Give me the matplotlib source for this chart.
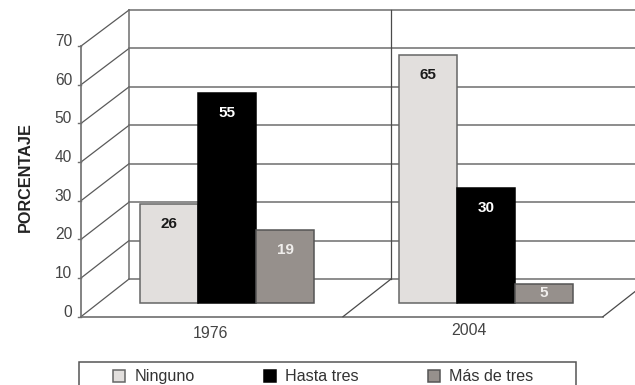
import matplotlib
matplotlib.use('Agg')
import matplotlib.pyplot as plt
from matplotlib.patches import Patch, Rectangle

plt.rcParams['font.family'] = ['Liberation Sans', 'DejaVu Sans']

years = ['1976', '2004']
categories = ['Ninguno', 'Hasta tres', 'Más de tres']
ninguno = [26, 65]
hasta_tres = [55, 30]
mas_de_tres = [19, 5]
yticks = [0, 10, 20, 30, 40, 50, 60, 70]

series = [ninguno, hasta_tres, mas_de_tres]
fills = ['#e2dfdd', '#000000', '#96908c']
edges = ['#666666', '#000000', '#555555']
label_colors = ['#1a1a1a', '#ffffff', '#f0eeec']

W, H = 635, 385
PX_PER_UNIT = 3.82
GROUP_STEP = 259.0
BASE_Y = 303.0
LINE = '#6e6e6e'
TEXT = '#444444'

fig = plt.figure(figsize=(W / 100, H / 100), dpi=100)
ax = fig.add_axes([0, 0, 1, 1])
ax.set_xlim(-227 / GROUP_STEP, (W - 227) / GROUP_STEP)
ax.set_ylim(-(H - BASE_Y) / PX_PER_UNIT, BASE_Y / PX_PER_UNIT)
ax.axis('off')


def front(v):
    # value on the near edge of the pseudo-3D box
    return v * 1.012 - 3.58


def back(v):
    # value on the rear wall of the box
    return v * 1.006 + 6.27


# x positions of the box corners, in group units
x_front = (81 - 227) / GROUP_STEP
x_back = (129 - 227) / GROUP_STEP
x_front_end = (603 - 227) / GROUP_STEP
x_back_end = (651 - 227) / GROUP_STEP
x_mid_front = (343 - 227) / GROUP_STEP
x_mid_back = (391 - 227) / GROUP_STEP
tick_len = 3 / GROUP_STEP

for v in yticks:
    ax.plot([x_back, x_back_end], [back(v), back(v)], color=LINE, lw=1.1, zorder=1)
    ax.plot([x_front, x_back], [front(v), back(v)], color='#5a5a5a', lw=0.9, zorder=1)
    ax.plot([x_front - tick_len, x_front], [front(v), front(v)], color=LINE, lw=1.0, zorder=1)
    ax.text(x_front - 9 / GROUP_STEP, front(v) + 1.2, str(v), ha='right', va='center',
            fontsize=11.2, color=TEXT)

ax.plot([x_front, x_front], [front(0), front(70)], color=LINE, lw=1.2, zorder=1)
ax.plot([x_back, x_back], [back(0), back(70)], color=LINE, lw=1.1, zorder=1)
ax.plot([x_mid_back, x_mid_back], [back(0), back(70)], color='#4a4a4a', lw=0.9, zorder=1)
ax.plot([x_front, x_front_end], [front(0), front(0)], color=LINE, lw=1.2, zorder=1)
ax.plot([x_mid_front, x_mid_back], [front(0), back(0)], color='#4a4a4a', lw=0.9, zorder=1)
ax.plot([x_front_end, x_back_end], [front(0), back(0)], color='#4a4a4a', lw=0.9, zorder=1)

width = 58 / GROUP_STEP
for i, (vals, fc, ec, tc) in enumerate(zip(series, fills, edges, label_colors)):
    xs = [g + (i - 1) * width for g in range(len(years))]
    ax.bar(xs, vals, width=width, color=fc, edgecolor=ec, linewidth=1.1, zorder=3)
    for x, v in zip(xs, vals):
        ax.annotate(str(v), (x, v), xytext=(0, -20 if v > 5 else -9), textcoords='offset pixels',
                    ha='center', va='center', fontsize=11, fontweight='bold', color=tc, zorder=4)

# year labels sit under the near edge of the floor
for g, (year, dy) in enumerate(zip(years, [-4.3, -3.5])):
    ax.annotate(year, (g, front(0)), xytext=(-17, dy * PX_PER_UNIT), textcoords='offset pixels',
                ha='center', va='center', fontsize=11.4, color=TEXT)

ax.text((25 - 227) / GROUP_STEP, (BASE_Y - 177) / PX_PER_UNIT, 'PORCENTAJE', rotation=90,
        ha='center', va='center', fontsize=11.7, fontweight='bold', color='#222222')

# legend box runs past the bottom edge, so it is drawn apart from the entries
ax.add_patch(Rectangle((79 / W, 1 - 390 / H), 497 / W, 28 / H, transform=ax.transAxes,
                       facecolor='white', edgecolor='#555555', linewidth=1.1, zorder=5,
                       clip_on=False))
handles = [Patch(facecolor=f, edgecolor=e, linewidth=1.1) for f, e in zip(fills, edges)]
leg = ax.legend(handles, categories, ncol=3, loc='upper left',
                bbox_to_anchor=(106 / W, 1 - 362 / H), fontsize=11.6, frameon=False,
                borderpad=0.45, borderaxespad=0, handlelength=0.75, handleheight=0.75,
                handletextpad=0.55, columnspacing=4.3, labelcolor='#333333')
leg.set_zorder(6)

fig.savefig('out.png', dpi=100)
